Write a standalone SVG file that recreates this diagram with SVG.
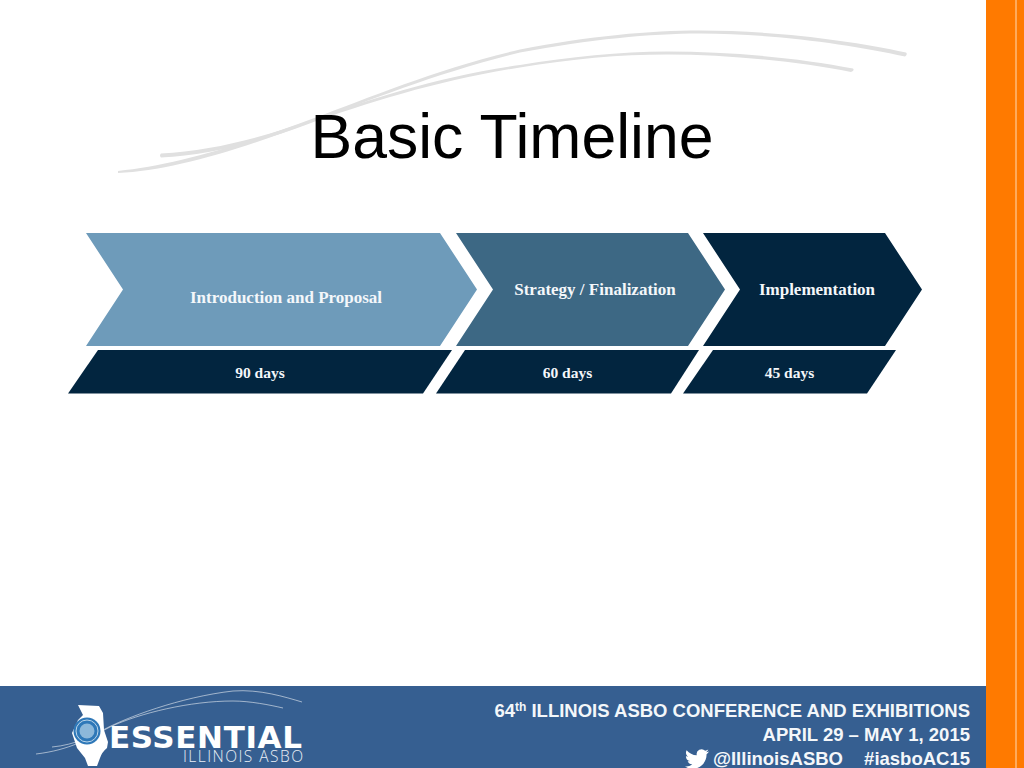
<svg xmlns="http://www.w3.org/2000/svg" width="1024" height="768" viewBox="0 0 1024 768">
  <style>
    .lbl { font: bold 17px "Liberation Serif", "Times New Roman", serif; fill: #f4f7fa; text-anchor: middle; }
    .days { font: bold 15.5px "Liberation Serif", "Times New Roman", serif; fill: #f4f7fa; text-anchor: middle; }
    .foot { font: bold 18.5px "Liberation Sans", Arial, sans-serif; fill: #f4f7fa; text-anchor: end; }
    .dark { fill: #02253f; }
    .swoosh { fill: #e0e0e0; }
    .fs { fill: none; stroke: #ffffff; stroke-opacity: .6; stroke-width: .9; }
  </style>
  <rect width="1024" height="768" fill="#ffffff"/>
  <g id="sidebar">
    <rect x="986" y="0" width="38" height="768" fill="#ff7a00"/>
    <rect x="1015.5" y="0" width="1" height="768" fill="#ffd9b5"/>
  </g>
  <g id="swooshes">
    <path class="swoosh" d="M118,171 C170,166 240,146 313,118.500 C370,97 440,68 520,49.500 C590,36 650,30.500 700,30.500 C770,30.500 850,40 906,52.500 Q908,54.500 905,56.500 C850,44 770,33.500 700,33.500 C650,33.500 590,39.500 520,52.500 C440,72 370,100 313,121.500 C240,150 170,171 118,173 Z"/>
    <path class="swoosh" d="M161,153.500 C210,151 260,138 307,121.500 C370,99 440,76 520,65 C570,57 620,51.500 667,51.500 C730,51.500 800,58 853,68.500 Q855,70.500 851,72 C800,62 730,54.500 667,54.500 C620,54.500 570,59 520,67.500 C440,80 370,102 307,124.500 C260,142 210,155 161,157.500 Q159,155.500 161,153.500 Z"/>
  </g>
  <g id="title">
    <text x="512" y="158" font-family="'Liberation Sans', Arial, sans-serif" font-size="62.500" text-anchor="middle" fill="#000000">Basic Timeline</text>
  </g>
  <g id="connectors"/>
  <g id="phase-1">
    <polygon points="86,233 440,233 477,289.500 440,346 86,346 123,289.500" fill="#6e9bba"/>
    <text class="lbl" x="286" y="303">Introduction and Proposal</text>
  </g>
  <g id="phase-2">
    <polygon points="456,233 688,233 725,289.500 688,346 456,346 493,289.500" fill="#3d6884"/>
    <text class="lbl" x="595" y="294.500">Strategy / Finalization</text>
  </g>
  <g id="phase-3">
    <polygon class="dark" points="703,233 885,233 922,289.500 885,346 703,346 740,289.500"/>
    <text class="lbl" x="817" y="294.500">Implementation</text>
  </g>
  <g id="duration-1">
    <polygon class="dark" points="98,350 452,350 423,393.500 68,393.500"/>
    <text class="days" x="260" y="378">90 days</text>
  </g>
  <g id="duration-2">
    <polygon class="dark" points="465,350 699,350 671,393.500 436,393.500"/>
    <text class="days" x="567.500" y="378">60 days</text>
  </g>
  <g id="duration-3">
    <polygon class="dark" points="713,350 896,350 867,393.500 683,393.500"/>
    <text class="days" x="789.500" y="378">45 days</text>
  </g>
  <g id="footer">
    <rect x="0" y="686" width="986" height="82" fill="#365f91"/>
    <path class="fs" d="M36,754 C70,750 90,738 103,730 C125,718 180,697 233,691 C260,689 285,697 302,702"/>
    <path class="fs" d="M52,747 C75,745 95,735 110,727 C140,713 190,701 233,701 C250,701 270,705 283,708"/>
    <path d="M78,705 L99,706 L103,713 L104,730 L108,742 L107,748 Q102,752 100,758 L97,766 L88,766 L85,758 L77,748 L72,733 L78,720 L83,715 Z" fill="#ffffff"/>
    <circle cx="87" cy="731" r="13.500" fill="#2f78b8"/>
    <circle cx="87" cy="731" r="11" fill="none" stroke="#bcd6ea" stroke-width="1"/>
    <circle cx="87" cy="731" r="7.500" fill="#8db8da"/>
    <text x="109" y="748" font-family="'DejaVu Sans', sans-serif" font-weight="bold" font-size="31" fill="#ffffff" textLength="193">ESSENTIAL</text>
    <text x="183" y="762" font-family="'Open Sans', sans-serif" font-weight="300" font-size="15.500" fill="#e8eef5" textLength="120">ILLINOIS ASBO</text>
    <text class="foot" x="970" y="717"><tspan>64</tspan><tspan font-size="12" dy="-6">th</tspan><tspan dy="6"> ILLINOIS ASBO CONFERENCE AND EXHIBITIONS</tspan></text>
    <text class="foot" x="970" y="741">APRIL 29 – MAY 1, 2015</text>
    <text class="foot" x="843" y="765">@IllinoisASBO</text>
    <text class="foot" x="970" y="765">#iasboAC15</text>
    <path transform="translate(685,747)" fill="#ffffff" d="M23.953 4.57a10 10 0 01-2.825.775 4.958 4.958 0 002.163-2.723c-.951.555-2.005.959-3.127 1.184a4.92 4.92 0 00-8.384 4.482C7.69 8.095 4.067 6.13 1.64 3.162a4.822 4.822 0 00-.666 2.475c0 1.71.87 3.213 2.188 4.096a4.904 4.904 0 01-2.228-.616v.06a4.923 4.923 0 003.946 4.827 4.996 4.996 0 01-2.212.085 4.936 4.936 0 004.604 3.417 9.867 9.867 0 01-6.102 2.105c-.39 0-.779-.023-1.17-.067a13.995 13.995 0 007.557 2.209c9.053 0 13.998-7.496 13.998-13.985 0-.21 0-.42-.015-.63A9.935 9.935 0 0024 4.59z"/>
  </g>
</svg>
